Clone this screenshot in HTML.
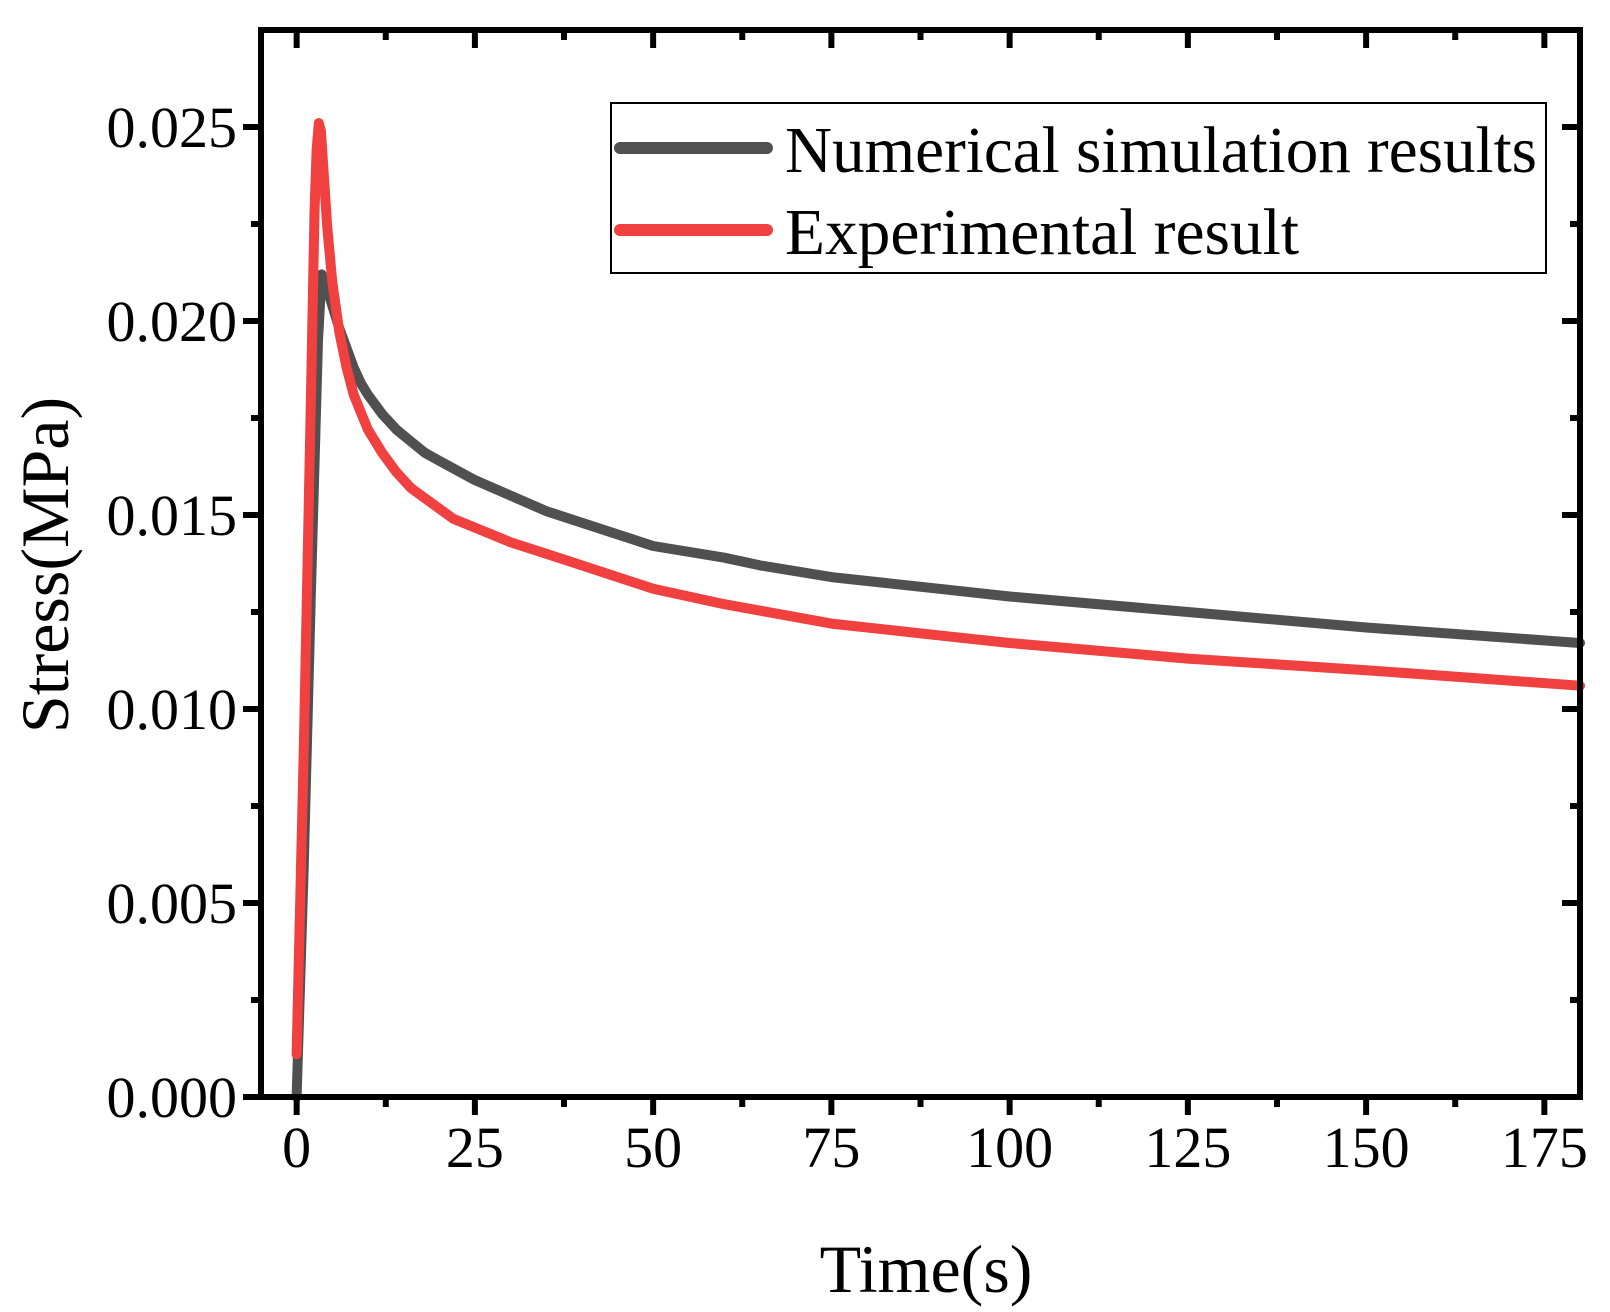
<!DOCTYPE html>
<html><head><meta charset="utf-8"><style>
html,body{margin:0;padding:0;background:#fff;}
svg{display:block;font-family:"Liberation Serif",serif;}
</style></head><body>
<svg id="chart" width="1610" height="1312" viewBox="0 0 1610 1312" xmlns="http://www.w3.org/2000/svg"></svg>
<script>
const numT = [0,1,2,3,3.5,4,5,6,7,8,9,10,12,14,16,18,20,25,30,35,40,45,50,60,65,75,90,100,125,150,180];
const numV = [0,0.006,0.013,0.0195,0.0212,0.0210,0.0204,0.0198,0.0193,0.0188,0.0184,0.0181,0.0176,0.0172,0.0169,0.0166,0.0164,0.0159,0.0155,0.0151,0.0148,0.0145,0.0142,0.0139,0.0137,0.0134,0.0131,0.0129,0.0125,0.0121,0.0117];
const expT = [0,1,2,2.5,2.8,3.1,3.4,3.8,4.3,5,6,7,8,10,12,14,16,19,22,26,30,35,40,50,60,75,90,100,125,150,180];
const expV = [0.0011,0.009,0.018,0.0228,0.0244,0.0251,0.0249,0.0238,0.0224,0.0210,0.0197,0.0188,0.0181,0.0172,0.0166,0.0161,0.0157,0.0153,0.0149,0.0146,0.0143,0.0140,0.0137,0.0131,0.0127,0.0122,0.0119,0.0117,0.0113,0.0110,0.0106];
const xTicks = [0,25,50,75,100,125,150,175];
const yTicks = [0,0.005,0.010,0.015,0.020,0.025];
const yLabels = ["0.000","0.005","0.010","0.015","0.020","0.025"];

const L=261,R=1580,T=30,B=1097;
const X0=-5,X1=180,Y0=0,Y1=0.0275;
function sx(v){return L+(v-X0)/(X1-X0)*(R-L);}
function sy(v){return B-(v-Y0)/(Y1-Y0)*(B-T);}
const svg=document.getElementById('chart');
const NS='http://www.w3.org/2000/svg';
function mk(tag,attrs,parent){const e=document.createElementNS(NS,tag);for(const k in attrs)e.setAttribute(k,attrs[k]);(parent||svg).appendChild(e);return e;}

function series(ts,vs,color,name){
  const d=ts.map((t,i)=>(i?'L':'M')+sx(t).toFixed(1)+','+sy(vs[i]).toFixed(1)).join(' ');
  const p=mk('path',{d:d,fill:'none',stroke:color,'stroke-width':10,'stroke-linejoin':'round','stroke-linecap':'round'});
  
  
}
series(numT,numV,'#505050','numerical-simulation-line');
series(expT,expV,'#f04040','experimental-line');

const g=mk('g',{stroke:'#000','stroke-width':6});


xTicks.forEach((v,i)=>{
  const x=sx(v);
  mk('line',{x1:x,y1:B,x2:x,y2:B+18},g);
  mk('line',{x1:x,y1:T,x2:x,y2:T+18},g);
  const t=mk('text',{x:x,y:B+70,'font-size':58,'text-anchor':'middle',fill:'#000',stroke:'none'});
  t.textContent=v;
  
  
  const m=sx(v+12.5);
  if(m<R){mk('line',{x1:m,y1:B,x2:m,y2:B+10},g);mk('line',{x1:m,y1:T,x2:m,y2:T+10},g);}
});
yTicks.forEach((v,i)=>{
  const y=sy(v);
  mk('line',{x1:L,y1:y,x2:L-18,y2:y},g);
  mk('line',{x1:R,y1:y,x2:R-18,y2:y},g);
  const t=mk('text',{x:L-24,y:y+20,'font-size':58,'text-anchor':'end',fill:'#000',stroke:'none'});
  t.textContent=yLabels[i];
  
  
  const m=sy(v+0.0025);
  if(m>T){mk('line',{x1:L,y1:m,x2:L-10,y2:m},g);mk('line',{x1:R,y1:m,x2:R-10,y2:m},g);}
});
const frame=mk('rect',{x:L,y:T,width:R-L,height:B-T,fill:'none',stroke:'#000','stroke-width':6});



const xt=mk('text',{x:926,y:1292,'font-size':68,'text-anchor':'middle',fill:'#000'});
xt.textContent='Time(s)';


const yt=mk('text',{x:0,y:0,'font-size':68,'text-anchor':'middle',fill:'#000',transform:'translate(68,565) rotate(-90)'});
yt.textContent='Stress(MPa)';



const lg=mk('g',{});


mk('rect',{x:611,y:103,width:935,height:170,fill:'#fff',stroke:'#000','stroke-width':2},lg);
mk('line',{x1:620,y1:148,x2:767,y2:148,stroke:'#505050','stroke-width':12,'stroke-linecap':'round'},lg);
mk('line',{x1:620,y1:230,x2:767,y2:230,stroke:'#f04040','stroke-width':12,'stroke-linecap':'round'},lg);
const l1=mk('text',{x:785,y:172,'font-size':66,fill:'#000',textLength:752,lengthAdjust:'spacingAndGlyphs'},lg);
l1.textContent='Numerical simulation results';


const l2=mk('text',{x:785,y:254,'font-size':66,fill:'#000',textLength:514,lengthAdjust:'spacingAndGlyphs'},lg);
l2.textContent='Experimental result';


</script>
</body></html>
